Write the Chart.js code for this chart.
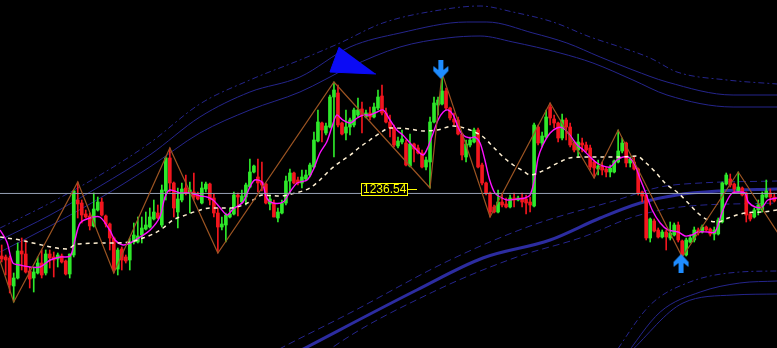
<!DOCTYPE html>
<html>
<head>
<meta charset="utf-8">
<title>XAU chart</title>
<script src="https://cdn.jsdelivr.net/npm/chart.js@4.4.1/dist/chart.umd.min.js"></script>
<style>
  html, body { margin: 0; padding: 0; background: #000; }
  canvas { display: block; background: #000; }
</style>
</head>
<body>
<canvas id="chart" width="777" height="348"></canvas>
<script>
// ---- candles (price) ----
var open = [1174,1173,1172,1144,1152,1179,1176,1159,1152,1157,1167,1157,1176,1173,1171,1174,1169,1156,1175,1230,
1227,1216,1214,1204,1220,1228,1214,1206,1192,1161,1181,1173,1170,1188,1188,1195,1201,1203,1211,1217,
1205,1239,1272,1247,1218,1230,1242,1237,1238,1235,1227,1241,1246,1232,1217,1203,1205,1213,1216,1235,
1228,1233,1243,1258,1253,1248,1246,1226,1227,1212,1217,1227,1249,1257,1250,1247,1251,1255,1263,1289,
1307,1297,1303,1333,1337,1307,1297,1303,1305,1315,1321,1313,1317,1313,1322,1334,1317,1308,1302,1284,
1288,1287,1264,1286,1282,1277,1263,1268,1308,1325,1326,1339,1322,1311,1310,1296,1273,1285,1288,1300,
1265,1247,1237,1223,1218,1228,1226,1223,1232,1230,1232,1231,1228,1224,1303,1287,1293,1323,1311,1307,
1292,1310,1303,1287,1280,1287,1285,1282,1268,1261,1264,1261,1258,1258,1268,1279,1287,1267,1268,1261,
1238,1235,1192,1209,1200,1193,1198,1192,1195,1205,1189,1175,1188,1190,1200,1198,1203,1201,1196,1196,
1208,1246,1251,1246,1239,1242,1237,1216,1213,1220,1220,1233,1237,1233];
var high = [1185,1175,1174,1157,1187,1192,1190,1163,1163,1173,1180,1180,1180,1178,1177,1176,1170,1176,1240,1248,
1230,1220,1217,1237,1233,1232,1215,1207,1193,1182,1183,1175,1192,1207,1213,1213,1218,1222,1230,1225,
1245,1273,1282,1248,1242,1247,1255,1248,1257,1238,1248,1248,1247,1236,1222,1213,1217,1222,1238,1237,
1240,1247,1271,1265,1271,1268,1247,1235,1230,1222,1230,1254,1261,1258,1253,1260,1260,1267,1298,1320,
1308,1307,1335,1348,1345,1308,1320,1312,1322,1332,1328,1320,1323,1327,1340,1345,1322,1315,1305,1293,
1300,1290,1296,1287,1285,1280,1273,1313,1333,1333,1357,1342,1323,1317,1313,1297,1290,1293,1302,1302,
1267,1248,1238,1225,1240,1237,1232,1235,1237,1234,1237,1235,1233,1307,1305,1298,1320,1327,1315,1308,
1316,1312,1307,1288,1296,1292,1288,1285,1270,1270,1268,1263,1265,1270,1300,1292,1288,1273,1273,1262,
1239,1236,1212,1211,1202,1200,1200,1208,1207,1208,1190,1192,1195,1203,1202,1205,1204,1202,1203,1212,
1248,1257,1256,1247,1258,1243,1238,1217,1222,1230,1238,1250,1241,1237];
var low = [1168,1155,1137,1128,1151,1160,1157,1142,1138,1156,1152,1155,1162,1153,1163,1167,1155,1152,1173,1212,
1207,1212,1200,1203,1219,1214,1203,1180,1157,1155,1160,1167,1160,1186,1187,1187,1200,1202,1210,1211,
1203,1230,1238,1213,1202,1228,1235,1217,1230,1230,1226,1238,1225,1213,1177,1200,1188,1212,1215,1214,
1227,1225,1242,1257,1238,1239,1226,1220,1213,1208,1216,1225,1237,1246,1245,1242,1249,1253,1262,1288,
1288,1295,1302,1273,1303,1295,1290,1295,1303,1313,1297,1312,1310,1312,1320,1315,1307,1293,1283,1282,
1286,1264,1263,1268,1276,1262,1260,1242,1307,1315,1325,1320,1310,1305,1295,1270,1268,1283,1287,1262,
1245,1235,1213,1217,1217,1223,1222,1222,1223,1229,1223,1216,1218,1223,1285,1283,1292,1305,1302,1288,
1290,1290,1283,1278,1273,1278,1278,1260,1252,1255,1255,1253,1253,1257,1267,1277,1263,1263,1260,1235,
1228,1190,1188,1198,1192,1192,1180,1190,1194,1188,1173,1174,1187,1188,1195,1197,1199,1194,1190,1195,
1207,1245,1243,1237,1238,1234,1208,1209,1212,1215,1218,1232,1225,1228];
var close = [1171,1170,1145,1152,1179,1176,1158,1151,1158,1167,1155,1176,1172,1170,1175,1168,1156,1176,1239,1226,
1215,1213,1204,1221,1228,1215,1206,1192,1160,1180,1170,1169,1188,1195,1194,1202,1205,1213,1218,1212,
1240,1272,1247,1222,1231,1241,1237,1240,1233,1231,1242,1246,1230,1217,1203,1206,1215,1216,1235,1233,
1234,1245,1258,1264,1247,1245,1227,1231,1213,1218,1227,1249,1257,1247,1247,1253,1255,1265,1290,1308,
1300,1304,1333,1340,1305,1296,1303,1310,1320,1320,1315,1317,1313,1323,1333,1317,1308,1302,1285,1289,
1291,1265,1286,1281,1277,1263,1270,1308,1327,1330,1339,1322,1312,1308,1296,1275,1286,1290,1300,1263,
1247,1237,1218,1218,1228,1225,1223,1232,1230,1232,1228,1227,1225,1305,1287,1294,1313,1312,1307,1292,
1310,1303,1285,1280,1288,1285,1280,1263,1262,1264,1260,1258,1262,1269,1279,1287,1267,1271,1261,1237,
1234,1192,1211,1199,1193,1198,1193,1197,1205,1190,1175,1190,1192,1200,1197,1203,1200,1196,1200,1210,
1247,1255,1245,1241,1243,1235,1215,1211,1220,1225,1235,1239,1233,1229];

// ---- indicators: [bar index, price] ----
var maFast = [[-0.4,1200],[1.3,1188],[2.8,1167],[4.5,1165],[7.0,1163],[9.6,1163],[12.1,1170],[14.6,1173],[17.1,1174],[18.3,1190],
[19.6,1207],[22.0,1212],[24.5,1213],[27.0,1200],[28.3,1190],[30.3,1185],[32.1,1187],[34.6,1193],[37.1,1200],[39.5,1213],
[40.8,1233],[42.0,1240],[44.5,1237],[47.0,1237],[49.6,1234],[51.3,1233],[52.8,1230],[54.6,1222],[56.3,1215],[57.8,1221],
[60.3,1228],[62.0,1243],[63.2,1250],[65.0,1248],[66.2,1232],[67.8,1227],[70.3,1228],[72.0,1238],[73.8,1247],[76.3,1250],
[77.8,1260],[79.5,1277],[81.2,1288],[82.5,1303],[83.7,1315],[85.2,1310],[87.1,1307],[88.8,1312],[90.3,1315],[92.0,1315],
[93.8,1318],[95.3,1320],[97.0,1310],[98.7,1300],[100.2,1295],[102.0,1287],[103.7,1280],[105.3,1275],[106.5,1283],[107.8,1297],
[109.0,1310],[110.3,1318],[111.5,1320],[112.8,1315],[114.0,1303],[115.2,1295],[117.0,1292],[118.2,1293],[119.5,1287],[120.7,1270],
[121.9,1250],[123.2,1237],[124.5,1233],[126.3,1230],[128.8,1231],[130.7,1232],[132.0,1235],[133.2,1252],[134.0,1272],[135.2,1285],
[137.0,1297],[138.7,1302],[140.2,1302],[141.9,1295],[143.8,1285],[145.3,1280],[147.0,1273],[148.7,1267],[150.2,1264],[152.0,1263],
[153.7,1270],[155.2,1273],[156.9,1272],[158.2,1265],[159.4,1252],[160.7,1239],[162.5,1220],[164.5,1207],[166.5,1200],[169.0,1198],
[170.7,1194],[172.4,1195],[173.9,1198],[176.4,1198],[178.2,1198],[179.9,1217],[181.3,1230],[182.5,1237],[184.0,1238],[185.7,1237],
[186.5,1228],[188.2,1223],[190.0,1223],[191.4,1230],[193.7,1232]];
var maSlow = [[-0.4,1193],[4.5,1190],[7.8,1187],[16.3,1181],[18.8,1186],[27.0,1187],[32.1,1188],[35.3,1192],[37.8,1196],[40.3,1202],
[42.8,1210],[45.3,1214],[48.8,1219],[52.1,1222],[57.0,1222],[60.3,1225],[62.8,1230],[65.2,1235],[69.5,1234],[73.3,1237],
[77.0,1242],[79.5,1250],[82.0,1260],[84.5,1268],[87.1,1275],[89.5,1283],[92.0,1290],[94.5,1297],[97.0,1302],[102.0,1301],
[105.3,1299],[108.8,1300],[112.8,1304],[117.0,1300],[120.3,1293],[122.8,1283],[125.3,1273],[127.8,1265],[130.3,1259],[132.0,1255],
[134.5,1258],[137.0,1263],[139.4,1268],[141.9,1272],[146.3,1273],[154.4,1273],[158.7,1274],[160.7,1268],[163.3,1258],[165.7,1247],
[169.0,1237],[171.5,1227],[173.9,1217],[176.4,1210],[178.9,1208],[181.5,1212],[185.7,1217],[190.0,1218],[193.7,1220]];
var zigzag = [[-2,1188],[3,1128],[19,1248],[28,1157],[42,1282],[54,1177],[83,1348],[107,1242],[110,1357],[122,1213],
[137,1327],[148,1252],[154,1300],[170,1173],[184,1258],[196,1184]];

// upper channel
var upOuter = [[-0.4,1202],[12.1,1227],[24.6,1255],[37.0,1287],[49.5,1326],[62.0,1350],[74.5,1370],[84.5,1387],[95.2,1407],[109.5,1420],
[119.5,1424],[127.7,1418],[137.7,1408],[147.0,1393],[154.5,1383],[162.0,1372],[168.7,1358],[181.2,1350],[193.7,1346]];
var upMid = [[-0.4,1190],[12.1,1215],[24.6,1244],[37.0,1275],[49.5,1313],[62.0,1338],[74.5,1353],[87.0,1383],[99.5,1397],[116.2,1408],
[121.2,1408],[132.7,1397],[141.2,1387],[149.5,1373],[157.7,1360],[166.2,1348],[182.7,1335],[193.7,1335]];
var upInner = [[-0.4,1178],[12.1,1204],[24.6,1232],[37.0,1263],[49.5,1297],[62.0,1320],[74.5,1338],[87.0,1363],[99.5,1383],[111.2,1392],
[119.5,1394],[127.7,1388],[139.5,1377],[147.7,1367],[157.7,1350],[166.2,1335],[182.7,1323],[193.7,1323]];
// long trend channel
var trendMid = [[62.0,1053],[76.3,1083],[103.7,1140],[120.2,1172],[137.0,1190],[149.5,1212],[159.5,1227],[168.7,1235],[179.4,1239],[193.7,1241]];
var trendUp = [[62.0,1065],[70.3,1083],[87.0,1117],[112.0,1170],[132.7,1205],[153.7,1230],[164.5,1243],[174.5,1247],[193.7,1249]];
var trendDn = [[74.5,1055],[82.8,1083],[107.7,1138],[128.7,1173],[145.2,1193],[157.7,1213],[169.5,1223],[193.7,1227]];
// lower channel
var loOuter = [[152.0,1070],[162.0,1125],[171.9,1148],[184.4,1158],[193.7,1159]];
var loMid = [[155.0,1070],[164.5,1118],[174.5,1138],[184.4,1147],[193.7,1149]];
var loInner = [[157.0,1078],[170.2,1127],[182.7,1135],[193.7,1136]];

// objects
var hlinePrice = 1236.54;
var flag = [[84.3,1383],[82.0,1358],[93.5,1356]];
var sellArrows = [[109.7,1360.5]];
var buyArrows = [[169.7,1166.5]];
var priceTag = { x: 89.8, y: 1241 };

var GREEN = '#2ee82a', RED = '#f2161e', NAVY = '#25258c';

function pts(a){
    var out = [];
    for (var i = 0; i < a.length; i++) out.push({ x: a[i][0], y: a[i][1] });
    return out;
}

var bodies = [], wicks = [], colors = [];
for (var i = 0; i < close.length; i++) {
    bodies.push({ x: i, y: [open[i], close[i]] });
    wicks.push({ x: i, y: [low[i], high[i]] });
    colors.push(close[i] >= open[i] ? GREEN : RED);
}

function arrowImage(down){
    var c = document.createElement('canvas');
    c.width = 17; c.height = 19;
    var g = c.getContext('2d');
    var p = [[6,0],[11,0],[11,10],[16,6],[16,11],[8.5,19],[1,11],[1,6],[6,10]];
    g.fillStyle = '#1e8cff';
    g.beginPath();
    for (var k = 0; k < p.length; k++) {
        var y = down ? p[k][1] : 19 - p[k][1];
        if (k == 0) g.moveTo(p[k][0], y); else g.lineTo(p[k][0], y);
    }
    g.closePath();
    g.fill();
    return c;
}

function bandLine(data, color, width, dash, order){
    return {
        type: 'line', data: pts(data), borderColor: color, borderWidth: width,
        borderDash: dash || [], pointRadius: 0, fill: false,
        cubicInterpolationMode: 'monotone', order: order || 10
    };
}

var tagPlugin = {
    id: 'priceTag',
    afterDatasetsDraw: function(chart){
        var c = chart.ctx;
        var x = Math.round(chart.scales.x.getPixelForValue(priceTag.x));
        var y = Math.round(chart.scales.y.getPixelForValue(priceTag.y));
        var text = hlinePrice.toFixed(2);
        c.save();
        c.font = '12px "Liberation Sans", Arial, sans-serif';
        var w = Math.round(c.measureText(text).width) + 3;
        c.fillStyle = '#000';
        c.fillRect(x, y - 6, w, 12);
        c.strokeStyle = '#ffff00';
        c.lineWidth = 1;
        c.strokeRect(x + 0.5, y - 6 + 0.5, w, 12);
        c.beginPath();
        c.moveTo(x + w, y + 0.5);
        c.lineTo(x + w + 10, y + 0.5);
        c.stroke();
        c.fillStyle = '#ffff00';
        c.textBaseline = 'middle';
        c.fillText(text, x + 2, y + 1);
        c.restore();
    }
};

var myChart = new Chart(document.getElementById('chart').getContext('2d'), {
    type: 'line',
    data: {
        datasets: [
            bandLine(upOuter, NAVY, 1, [6,3,2,3]),
            bandLine(upMid, NAVY, 1),
            bandLine(upInner, NAVY, 1),
            bandLine(trendUp, NAVY, 1, [7,4]),
            bandLine(trendMid, '#2c2ca0', 3),
            bandLine(trendDn, NAVY, 1, [7,4]),
            bandLine(loOuter, NAVY, 1, [6,3,2,3]),
            bandLine(loMid, NAVY, 1),
            bandLine(loInner, NAVY, 1),
            {
                type: 'bar', data: wicks, backgroundColor: colors, barThickness: 1,
                grouped: false, borderWidth: 0, order: 6
            },
            {
                type: 'bar', data: bodies, backgroundColor: colors, barThickness: 3,
                grouped: false, borderWidth: 0, minBarLength: 1, order: 5
            },
            {
                type: 'line', data: pts(maSlow), borderColor: '#fff0d2', borderWidth: 1.5,
                borderDash: [4,4], pointRadius: 0, cubicInterpolationMode: 'monotone', order: 4
            },
            {
                type: 'line', data: pts(maFast), borderColor: '#ff10ff', borderWidth: 1.4,
                pointRadius: 0, tension: 0.3, order: 4
            },
            {
                type: 'line', data: pts(zigzag), borderColor: '#9c5422', borderWidth: 1.2,
                pointRadius: 0, tension: 0, order: 3
            },
            {
                type: 'line', data: [{ x: -1, y: hlinePrice }, { x: 195, y: hlinePrice }],
                borderColor: '#96a0b4', borderWidth: 1, pointRadius: 0, order: 3
            },
            {
                type: 'line', data: pts(flag), borderColor: '#0b0bf5', borderWidth: 1,
                backgroundColor: '#0b0bf5', fill: 'shape', pointRadius: 0, tension: 0, order: 2
            },
            {
                type: 'scatter', data: pts(sellArrows), pointStyle: arrowImage(true),
                pointRadius: 5, order: 1
            },
            {
                type: 'scatter', data: pts(buyArrows), pointStyle: arrowImage(false),
                pointRadius: 5, order: 1
            }
        ]
    },
    options: {
        responsive: false,
        animation: false,
        devicePixelRatio: 1,
        events: [],
        layout: { padding: 0, autoPadding: false },
        plugins: { legend: { display: false }, tooltip: { enabled: false } },
        scales: {
            x: { type: 'linear', display: false, min: -0.425, max: 193.68, offset: false },
            y: { type: 'linear', display: false, min: 1082, max: 1430 }
        }
    },
    plugins: [tagPlugin]
});
</script>
</body>
</html>
